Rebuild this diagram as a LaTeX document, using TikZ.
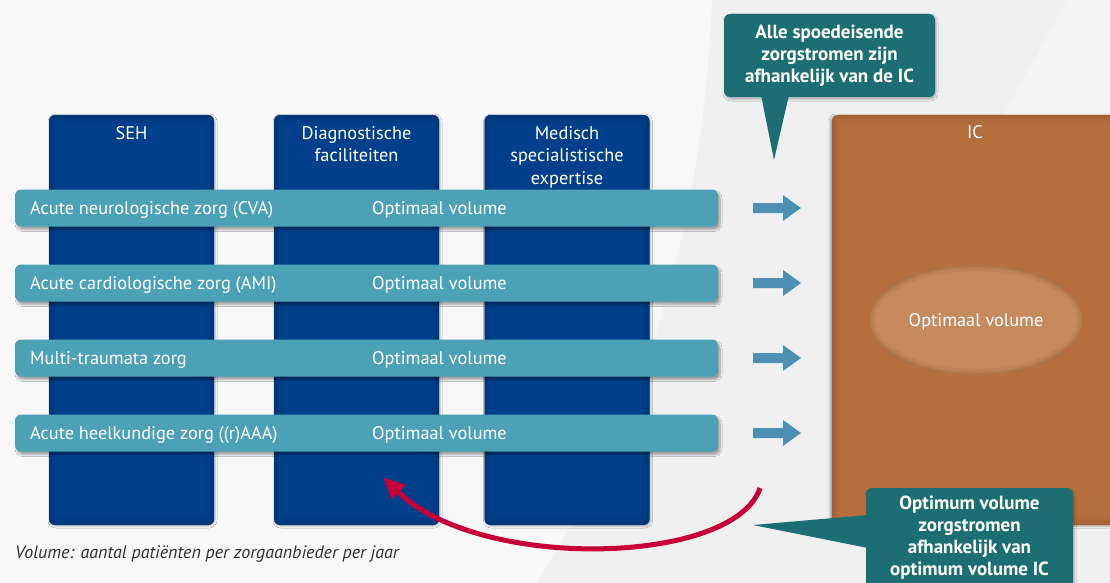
\documentclass[tikz,border=0pt]{standalone}
\usepackage{fontspec}
\setmainfont{PT Sans}
\usetikzlibrary{shadows.blur,arrows.meta,shapes.geometric}
\definecolor{bgA}{HTML}{F7F7F7}
\definecolor{bgB}{HTML}{F0F0F0}
\definecolor{bgC}{HTML}{F4F4F4}
\definecolor{colblue}{HTML}{00408A}
\definecolor{colbluedark}{HTML}{012D60}
\definecolor{barteal}{HTML}{4DA1B6}
\definecolor{arrowblue}{HTML}{4E90B3}
\definecolor{icorange}{HTML}{B76E3E}
\definecolor{icdark}{HTML}{8A4E28}
\definecolor{ellorange}{HTML}{C68A5F}
\definecolor{calloutteal}{HTML}{1D6E72}
\definecolor{redarc}{HTML}{C8003A}
\definecolor{notegrey}{HTML}{2F2F2F}
\tikzset{
  colbox/.style={fill=colblue, rounded corners=6pt,
    minimum width=165pt, minimum height=410pt, inner sep=0pt, blur shadow={shadow blur steps=5, shadow xshift=1pt, shadow yshift=-1pt, shadow opacity=25}},
  collabel/.style={text=white, font=\fontsize{18.3}{22.5}\selectfont, align=center, anchor=north, inner sep=0pt},
  barbox/.style={fill=barteal, rounded corners=6pt, minimum width=703pt, minimum height=37pt, inner sep=0pt,
    blur shadow={shadow blur steps=6, shadow xshift=2pt, shadow yshift=-3pt, shadow opacity=35}},
  bartext/.style={text=white, font=\fontsize{18.3}{22}\selectfont, anchor=west, inner sep=0pt},
  fatarrow/.style={fill=arrowblue, draw=none},
  callout/.style={fill=calloutteal, draw=none, blur shadow={shadow blur steps=5, shadow xshift=1pt, shadow yshift=-2pt, shadow opacity=30}},
  callouttext/.style={text=white, font=\bfseries\fontsize{19}{22}\selectfont, align=center, inner sep=0pt},
}
\newcommand{\myglow}[2]{%
  \begin{scope}
    \clip[rounded corners=6pt] (#1.south west) rectangle (#1.north east);
    \foreach \w/\o in {16/0.12, 10/0.15, 5/0.2}{
      \draw[line width=\w pt, #2, opacity=\o, rounded corners=6pt] (#1.south west) rectangle (#1.north east);
    }
  \end{scope}}
\begin{document}
\begin{tikzpicture}[x=1pt,y=-1pt]
\useasboundingbox (0,0) rectangle (1110,583);
% background
\fill[bgA] (0,0) rectangle (1110,583);
\fill[bgB] (712,0) .. controls (705,200) and (650,400) .. (570,527) -- (537,583) -- (1110,583) -- (1110,0) -- cycle;
\fill[bgC] (1067,0) -- (940,230) -- (1110,230) -- (1110,0) -- cycle;

% IC box
\node[fill=icorange, rounded corners=6pt, minimum width=290pt, minimum height=410pt, inner sep=0pt,
  blur shadow={shadow blur steps=5, shadow xshift=-2pt, shadow yshift=-1pt, shadow opacity=30}] (ic) at (977,320) {};
\myglow{ic}{icdark}
\node[text=white, font=\fontsize{18.3}{22}\selectfont, inner sep=0pt] (iclabel) at (975,132) {IC};
\node[ellipse, fill=ellorange, minimum width=216pt, minimum height=112pt] (opt) at (976,320) {};
\begin{scope}
  \clip (976,320) ellipse [x radius=108pt, y radius=56pt];
  \foreach \w/\o in {14/0.12, 8/0.15, 4/0.2}{
    \draw[line width=\w pt, icdark, opacity=\o] (976,320) ellipse [x radius=108pt, y radius=56pt];
  }
\end{scope}
\node[text=white, font=\fontsize{18.3}{22}\selectfont, inner sep=0pt] (optl) at (976,321.5) {Optimaal volume};

% columns
\node[colbox] (seh) at (131.5,320) {};
\node[colbox] (diag) at (356.5,320) {};
\node[colbox] (med) at (567,320) {};
\myglow{seh}{colbluedark}
\myglow{diag}{colbluedark}
\myglow{med}{colbluedark}
\node[collabel] (sehlabel) at (131.5,126) {SEH};
\node[collabel] (diaglabel) at (356.5,126) {Diagnostische\\faciliteiten};
\node[collabel] (medlabel) at (567,126) {Medisch\\specialistische\\expertise};

% bars
\foreach \y/\name/\txt in {208/b1/{Acute neurologische zorg (CVA)},283/b2/{Acute cardiologische zorg (AMI)},358/b3/{Multi-traumata zorg},433/b4/{Acute heelkundige zorg ((r)AAA)}}{
  \node[barbox] (\name) at (366.5,\y) {};
  \node[bartext] (\name l) at (30,\y+1.5) {\txt};
  \node[bartext] (\name o) at (372,\y+1.5) {Optimaal volume};
  \fill[fatarrow] (753,\y-5) -- (783,\y-5) -- (783,\y-13) -- (801,\y) -- (783,\y+13) -- (783,\y+5) -- (753,\y+5) -- cycle;
}

% top callout
\node[callout, rounded corners=6pt, minimum width=211pt, minimum height=83pt, inner sep=0pt] (ctop) at (829.5,55.5) {};
\fill[calloutteal] (761,95) -- (789,95) -- (774,160) -- cycle;
\node[callouttext] (ctoptext) at (829.5,56) {Alle spoedeisende\\zorgstromen zijn\\afhankelijk van de IC};

% bottom callout
\node[callout, rounded corners=6pt, minimum width=207pt, minimum height=110pt, inner sep=0pt] (cbot) at (969.5,543) {};
\fill[calloutteal] (868,515) -- (753,525) -- (868,548) -- cycle;
\node[callouttext] (cbottext) at (969.5,538) {Optimum volume\\zorgstromen\\afhankelijk van\\optimum volume IC};

% red arc
\coordinate (rs) at (760,488);
\coordinate (re) at (383,477);
\draw[redarc, line width=5pt, -{Triangle[length=22pt,width=19pt]}] (rs) .. controls (735,565) and (480,572) .. (re);

% footnote
\node[anchor=west, inner sep=0pt, text=notegrey, font=\itshape\fontsize{18}{20}\selectfont] (note) at (15,554) {Volume: aantal patiënten per zorgaanbieder per jaar};
\end{tikzpicture}
\end{document}
